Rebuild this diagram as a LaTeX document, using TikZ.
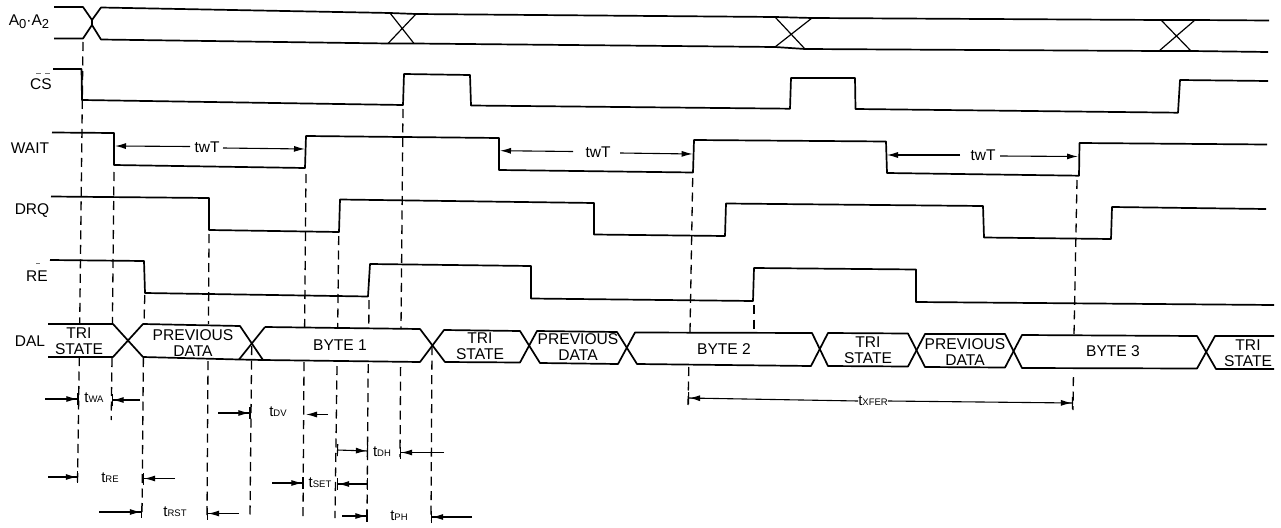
\documentclass[tikz,border=0pt]{standalone}
\usepackage{fontspec}
\setmainfont{Liberation Sans}
\usetikzlibrary{arrows.meta}
\tikzset{
  sig/.style={line width=1.7pt,line join=round},
  xing/.style={line width=1.2pt},
  dsh/.style={line width=1.3pt,dash pattern=on 9pt off 5.5pt},
  dimline/.style={line width=1.1pt,-{Latex[length=11pt,width=6pt]Bar[width=12pt,line width=1.1pt,sep=0pt]}},
  dimbar/.style={line width=1.1pt,{Bar[width=12pt,line width=1.1pt,sep=0pt]}-{Latex[length=11pt,width=6pt]Bar[width=12pt,line width=1.1pt,sep=0pt]}},
  dimfree/.style={line width=1.1pt,-{Latex[length=11pt,width=6pt]}},
  lbl/.style={inner sep=0pt,font=\fontsize{15.5}{15.5}\selectfont},
  dal/.style={inner sep=0pt,align=center,font=\fontsize{15.6}{16}\selectfont},
  tlbl/.style={inner sep=0pt,font=\fontsize{15}{15}\selectfont},
  obar/.style={line width=0.6pt,black!55},
}
\newcommand{\subt}[1]{t{\fontsize{9.5}{10}\selectfont #1}}
\newcommand{\dimarr}[4][dimline]{%
  \coordinate (#2a) at (#3);\coordinate (#2b) at (#4);
  \draw[#1] (#2a) -- (#2b);}
\newcommand{\lowsub}[1]{\raisebox{-3pt}{\fontsize{13}{13}\selectfont #1}}
\begin{document}
\begin{tikzpicture}[x=1pt,y=-1pt]
\useasboundingbox (0,0) rectangle (1281,527);
% signal labels
\node[lbl] (la) at (29,22) {A\lowsub{0}·A\lowsub{2}};
\node[lbl] (lcs) at (41,84) {CS};
\node[lbl] (lw) at (30,148) {WAIT};
\node[lbl] (ld) at (32,211) {DRQ};
\node[lbl] (lre) at (37,276) {RE};
\node[lbl] (ldal) at (30,341) {DAL};
\draw[obar] (36,73) -- (41,73) (45,73) -- (50,73);
\draw[obar] (36,263) -- (40,263);
% address bus
\draw[sig] (54,7) -- (83,7) -- (92,20) -- (101,7.5) -- (390,13) -- (416,14) -- (775,17) -- (812,18) -- (1161,20) -- (1195,20) -- (1269,20.5);
\draw[sig] (54,38.5) -- (83,38.5) -- (92,25) -- (101,39.5) -- (388,43.5) -- (414,43.5) -- (775,47) -- (805,49) -- (1159,51) -- (1191,51) -- (1268,52);
\draw[sig] (92,20) -- (92,25);
\draw[xing] (390,13) -- (414,43.5) (388,43.5) -- (416,14);
\draw[xing] (775,17) -- (805,49) (775,47) -- (812,18);
\draw[xing] (1161,20) -- (1191,51) (1159,51) -- (1195,20);
% CS
\draw[sig] (53,69) -- (81.5,69) -- (82,100) -- (403,105) -- (404,74) -- (470,75) -- (471,105.5) -- (790,108.7) -- (791,78) -- (855,78) -- (855.5,109) -- (1178,112.7) -- (1180,80) -- (1268,81);
% WAIT
\draw[sig] (52,132.5) -- (114,133) -- (114,165) -- (305,168) -- (306,136) -- (499,138) -- (499,170) -- (693,172.5) -- (694,140) -- (886,141.5) -- (887,173) -- (1079,175.7) -- (1079.5,143) -- (1267,144.5);
% DRQ
\draw[sig] (51,196.5) -- (209,198) -- (209,230) -- (339,232) -- (340,199.5) -- (594,203) -- (594,234.5) -- (725,236) -- (726,203.5) -- (983,206) -- (984,237.5) -- (1111,239) -- (1112,207) -- (1266,209);
% RE
\draw[sig] (50,260) -- (144,261) -- (145,293) -- (368,296.5) -- (370,264) -- (531,266) -- (531,298.5) -- (753,301) -- (754,268) -- (916,269.5) -- (916,302) -- (1274,305);
% DAL
\draw[sig] (48,324) -- (113,324) -- (143,357) -- (239,359.5) -- (263,360) -- (420,362) -- (444,330) -- (520,331) -- (540,363) -- (618,364) -- (635,332.5) -- (812,333) -- (828,366) -- (908,366.5) -- (925,334) -- (1005,334) -- (1022,368) -- (1197,368.5) -- (1215,336) -- (1274,336);
\draw[sig] (48,357) -- (113,357) -- (143,324) -- (240,326) -- (263,360) (265,327) -- (420,329) -- (445,362) -- (520,362.5) -- (537,331) -- (617,332) -- (637,364) -- (811,366) -- (828,333) -- (908,333.5) -- (925,367) -- (1005,367.5) -- (1022,335) -- (1197,336) -- (1216,369) -- (1274,369);
\draw[sig] (239,359.5) -- (265,327);
% DAL texts
\node[dal] (n1) at (79,341) {TRI\\STATE};
\node[dal] (n2) at (193,343) {PREVIOUS\\DATA};
\node[dal] (n3) at (340,345) {BYTE 1};
\node[dal] (n4) at (480,346) {TRI\\STATE};
\node[dal] (n5) at (578,347.5) {PREVIOUS\\DATA};
\node[dal] (n6) at (724,349) {BYTE 2};
\node[dal] (n7) at (868,350) {TRI\\STATE};
\node[dal] (n8) at (965,352) {PREVIOUS\\DATA};
\node[dal] (n9) at (1113,351) {BYTE 3};
\node[dal] (n10) at (1248,353) {TRI\\STATE};
% dashed guide lines
\draw[dsh] (83,42) -- (79.7,324);
\draw[dsh] (79.3,357) -- (77.5,484);
\draw[dsh] (114,172) -- (112.4,324);
\draw[dsh] (112,358) -- (111.2,420);
\draw[dsh] (144.8,295) -- (144,324);
\draw[dsh] (143.4,358) -- (142,517);
\draw[dsh] (209,234) -- (208.5,324);
\draw[dsh] (208,361) -- (207,517);
\draw[dsh] (251.7,346) -- (250,517);
\draw[dsh] (306,174) -- (304.6,328);
\draw[dsh] (304,362) -- (303,518);
\draw[dsh] (338.7,236) -- (337.7,328);
\draw[dsh] (337,366) -- (335,518);
\draw[dsh] (369,300) -- (368.8,328);
\draw[dsh] (368.2,364) -- (367,518);
\draw[dsh] (403,109) -- (401,329);
\draw[dsh] (400.6,367) -- (400,457);
\draw[dsh] (432,346) -- (431,520);
\draw[dsh] (692.7,178) -- (690,332);
\draw[dsh] (688.8,367) -- (688,406);
\draw[dsh] (754,305) -- (754,332);
\draw[dsh] (1077,180) -- (1074,335);
\draw[dsh] (1073.4,377) -- (1073,410);
% tWT
\node[lbl] (w1) at (207,147) {twT};
\coordinate (w1a) at (115,146);\coordinate (w1b) at (305,149);
\draw[dimfree] (190,146.5) -- (w1a);
\draw[dimfree] (223,148) -- (w1b);
\node[lbl] (w2) at (598,152) {twT};
\coordinate (w2a) at (500,150.7);\coordinate (w2b) at (692.7,154);
\draw[dimfree] (573,151.5) -- (w2a);
\draw[dimfree] (620,153) -- (w2b);
\node[lbl] (w3) at (983,155) {twT};
\coordinate (w3a) at (887,155);\coordinate (w3b) at (1078,156.5);
\draw[dimfree] (960,155) -- (w3a);
\draw[dimfree] (1000,156) -- (w3b);
% timing labels
\node[tlbl] (twa) at (94,398) {\subt{WA}};
\dimarr{wal}{45,399}{78.5,399}
\dimarr{war}{140,400}{111.5,400}
\node[tlbl] (tdv) at (278,412) {\subt{DV}};
\dimarr{dvl}{218,413}{250.5,413}
\dimarr[dimfree]{dvr}{328,414.5}{306,414.5}
\node[tlbl] (tdh) at (382,452) {\subt{DH}};
\dimarr[dimbar]{dhl}{337,450}{368,451}
\dimarr{dhr}{444,452.5}{400,452.5}
\node[tlbl] (tre) at (110,478) {\subt{RE}};
\dimarr{rel}{48,477}{78,477}
\dimarr{rer}{175,478.5}{143,478.5}
\node[tlbl] (tset) at (320,483) {\subt{SET}};
\dimarr{setl}{272,483}{303.5,483}
\dimarr[dimbar]{setr}{368,484}{337,484}
\node[tlbl] (trst) at (175,512) {\subt{RST}};
\dimarr{rstl}{99,512}{142,512}
\dimarr{rstr}{239,513.5}{207,513.5}
\node[tlbl] (tph) at (399,516) {\subt{PH}};
\dimarr{phl}{342,516}{367.5,516}
\dimarr{phr}{472,517}{431,517}
\node[tlbl] (tx) at (873,401) {\subt{XFER}};
\coordinate (xa) at (688,398);\coordinate (xb) at (1073,403);
\draw[dimline] (tx.west) -- (xa);
\draw[dimline] (tx.east) -- (xb);
\end{tikzpicture}
\end{document}
